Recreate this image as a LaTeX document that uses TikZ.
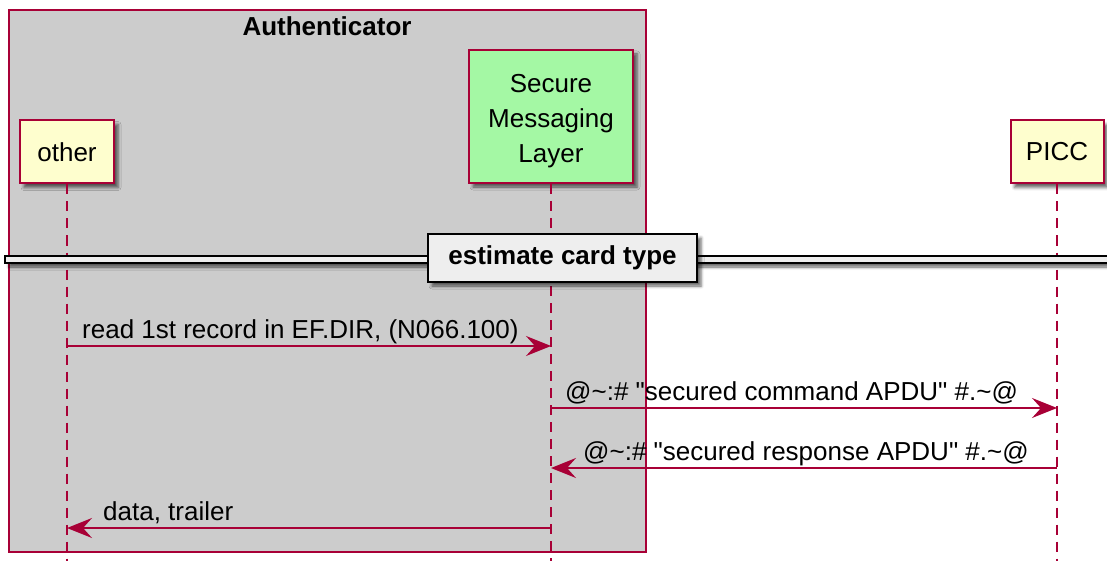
\documentclass[tikz,border=0pt]{standalone}
\usepackage{fontspec}
\setmainfont{Liberation Sans}
\usetikzlibrary{arrows.meta,shadows.blur,positioning}
\definecolor{umlred}{HTML}{A80036}
\definecolor{actorfill}{HTML}{FEFECE}
\definecolor{smlfill}{HTML}{A4F8A4}
\definecolor{boxfill}{HTML}{CCCCCC}
\definecolor{sepfill}{HTML}{EEEEEE}
\begin{document}
\begin{tikzpicture}[
    x=1pt, y=-1pt,
    every node/.style={font=\fontsize{26}{35}\selectfont},
    umlshadow/.style={blur shadow={shadow xshift=4pt, shadow yshift=-4pt, shadow blur radius=3pt, shadow opacity=60}},
    actor/.style={draw=umlred, line width=2pt, fill=actorfill, minimum height=63pt, umlshadow},
    lifeline/.style={draw=umlred, line width=1.6pt, dash pattern=on 10pt off 7pt},
    msg/.style={draw=umlred, line width=1.5pt, -{Stealth[length=25pt, width=20pt, inset=9pt]}},
    msglabel/.style={anchor=base west, inner sep=0pt}
]
\useasboundingbox (0,0) rectangle (1107,561);
% the Authenticator box
\draw[umlred, line width=1.5pt, fill=boxfill] (9,10) rectangle (646,552);
\node[font=\fontsize{26}{30}\selectfont\bfseries] (auth) at (327,26) {Authenticator};
% participants
\node[actor, minimum width=94pt] (other) at (67,152) {other};
\node[actor, fill=smlfill, minimum width=164pt, minimum height=133pt,
      label={[name=smltext, align=center, yshift=-5pt]center:{Secure\\Messaging\\Layer}}] (sml) at (551,116.5) {};
\node[actor, minimum width=93pt] (picc) at (1057,152) {PICC};
\draw[lifeline] (other.south) -- (other |- 0,561);
\draw[lifeline] (sml.south) -- (sml |- 0,561);
\draw[lifeline] (picc.south) -- (picc |- 0,561);
% divider
\draw[line width=1.5pt, fill=sepfill, umlshadow] (5,256) rectangle (1112,263);
\node[draw=black, line width=2pt, fill=sepfill, umlshadow, minimum width=269pt, minimum height=48pt,
      font=\fontsize{26}{30}\selectfont\bfseries] (sep) at (562.5,258) {estimate card type};
% messages
\draw[msg] (other |- 0,346) -- (sml |- 0,346);
\node[msglabel] (m1) at (82,338) {read 1st record in EF.DIR, (N066.100)};
\draw[msg] (sml |- 0,408) -- (picc |- 0,408);
\node[msglabel] (m2) at (565,400) {@\textasciitilde:\# \textquotedbl secured command APDU\textquotedbl{} \#.\textasciitilde@};
\draw[msg] (picc |- 0,468) -- (sml |- 0,468);
\node[msglabel] (m3) at (583,460) {@\textasciitilde:\# \textquotedbl secured response APDU\textquotedbl{} \#.\textasciitilde@};
\draw[msg] (sml |- 0,528) -- (other |- 0,528);
\node[msglabel] (m4) at (103,520) {data, trailer};
\end{tikzpicture}
\end{document}
